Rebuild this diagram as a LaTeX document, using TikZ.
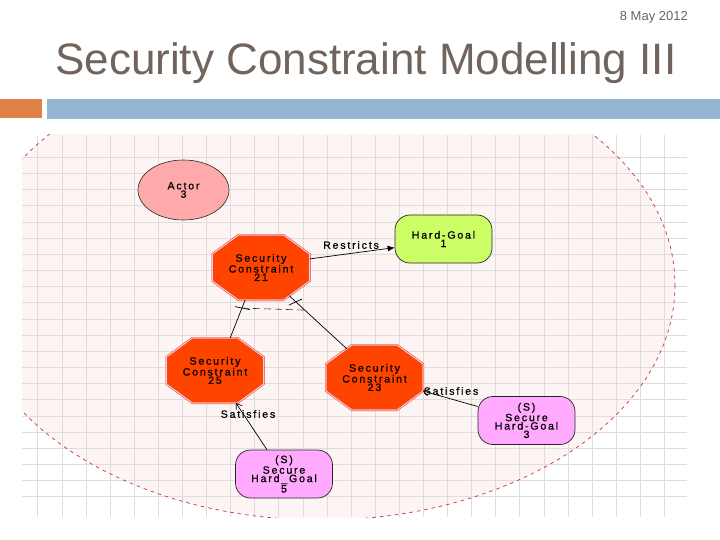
\documentclass[tikz,border=0pt]{standalone}
\usepackage{fontspec}
\setmainfont{Liberation Sans}
\newfontfamily\diagfont{Liberation Sans}[LetterSpace=17,FakeBold=0.7]
\usetikzlibrary{arrows.meta,calc,shapes.geometric}
\definecolor{titlecol}{RGB}{112,100,92}
\definecolor{barorange}{RGB}{224,130,72}
\definecolor{barblue}{RGB}{148,182,210}
\definecolor{bgpink}{RGB}{253,244,244}
\definecolor{gridcol}{RGB}{222,220,220}
\definecolor{dashred}{RGB}{200,50,60}
\definecolor{actorfill}{RGB}{255,170,170}
\definecolor{hgfill}{RGB}{204,255,102}
\definecolor{shgfill}{RGB}{255,170,255}
\definecolor{scfill}{RGB}{255,68,0}
\definecolor{scedge}{RGB}{225,40,40}
\definecolor{scinner}{RGB}{255,205,190}
\tikzset{
  lbl/.style={font=\diagfont\fontsize{10.6}{8.4}\selectfont, align=center, text=black, inner sep=0pt},
  actor/.style={lbl, ellipse, minimum width=91pt, minimum height=60pt, draw=black!85, fill=actorfill, line width=0.6pt},
  goal/.style={lbl, rectangle, rounded corners=15pt, minimum width=97pt, minimum height=48pt, draw=black!85, fill=hgfill, line width=0.7pt},
  sgoal/.style={goal, fill=shgfill},
  scbox/.style={lbl, rectangle, minimum width=97pt, minimum height=65pt},
  scshape/.style={draw=scedge, double=scinner, double distance=1.1pt, line width=0.45pt, fill=scfill},
  conn/.style={draw=black, line width=0.7pt},
  gridline/.style={draw=gridcol, line width=0.6pt},
  edgelbl/.style={font=\diagfont\fontsize{10.6}{10}\selectfont, text=black, inner sep=0pt}
}
\newcommand\scnode[4]{%
  \draw[scshape, shift={(#2,#3)}] (-48.5,-13.5) -- (-22.5,-32.5) -- (22.5,-32.5) -- (48.5,-13.5)
     -- (48.5,13.5) -- (22.5,32.5) -- (-22.5,32.5) -- (-48.5,13.5) -- cycle;
  \node[scbox] (#1) at (#2,#3) {#4};
}
\begin{document}
\begin{tikzpicture}[x=1pt,y=-1pt]
\useasboundingbox (0,0) rectangle (720,540);
\fill[white] (0,0) rectangle (720,540);
% header
\node[anchor=base east, inner sep=0pt, font=\fontsize{13}{15}\selectfont, text=titlecol] (date) at (688,21) {8 May 2012};
\node[anchor=base west, inner sep=0pt, font=\fontsize{44}{50}\selectfont, text=titlecol] (title) at (55,75) {Security Constraint Modelling III};
\fill[barorange] (0,99) rectangle (42,118);
\fill[barblue] (47,99) rectangle (720,119);
% diagram background
\begin{scope}
  \clip (22,135) rectangle (687,517);
  \fill[bgpink] (321,285) ellipse [x radius=354, y radius=235];
  \foreach \i in {0,...,26} \draw[gridline] ({37.7+24.1*\i},135) -- ++(0,382);
  \foreach \j in {0,...,21} \draw[gridline] (22,{157.3+16.16*\j}) -- ++(665,0);
  \draw[dashred, line width=0.7pt, dash pattern=on 3.5pt off 4pt] (321,285) ellipse [x radius=354, y radius=235];
\end{scope}
% nodes
\node[actor] (actor) at (183.5,190) {Actor\\3};
\node[goal] (hg1) at (443.5,239) {Hard-Goal\\1};
\scnode{sc21}{261}{267.5}{Security\\Constraint\\21}
\scnode{sc25}{215}{370.5}{Security\\Constraint\\25}
\scnode{sc23}{374.5}{377.5}{Security\\Constraint\\23}
\node[sgoal] (shg3) at (526.5,420.5) {(S)\\Secure\\Hard-Goal\\3};
\node[sgoal] (shg5) at (284,474) {(S)\\Secure\\Hard\_Goal\\5};
% connectors
\draw[conn, -{Latex[length=7pt,width=6pt]}] (sc21.10) -- (hg1.190);
\node[edgelbl] (restricts) at (351,245) {Restricts};
\draw[conn] (sc25.65) -- (sc21.244) coordinate[pos=0.79] (t1);
\draw[conn] ($(sc23.center)+(-27.5,-28.5)$) -- ($(sc21.center)+(28.3,28.3)$)
   coordinate[pos=0.732] (t2) coordinate[pos=0.883] (t3);
\draw[black, line width=0.7pt] ($(t1)+(-7,-1.5)$) -- ($(t1)+(8,1.5)$);
\draw[black, line width=0.7pt] ($(t3)+(-7,3)$) -- ($(t3)+(6,-3)$);
\draw[black!80, line width=0.6pt, dash pattern=on 7pt off 4pt] (t1) -- (t2);
\draw[conn, -{Straight Barb[length=5pt,width=7pt]}] (shg5.125) -- ($(sc25.center)+(21,32.5)$);
\node[edgelbl] (sat25) at (248,414) {Satisfies};
\draw[conn, -{Straight Barb[length=5pt,width=7pt]}] (shg3.164) -- ($(sc23.center)+(48.5,13.5)$);
\node[edgelbl] (sat23) at (451,391) {Satisfies};
\end{tikzpicture}
\end{document}
